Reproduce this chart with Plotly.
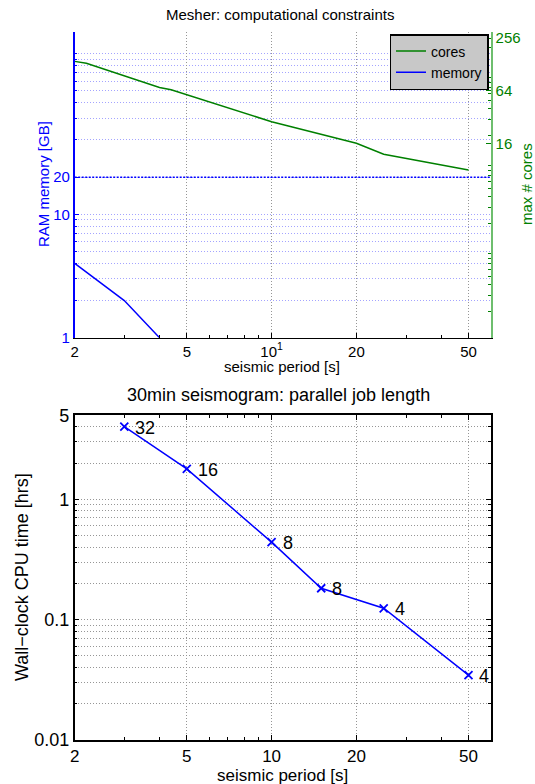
import math
import plotly.graph_objects as go

# ---------------- data ----------------
period_cores = [2, 2.2, 4, 4.4, 10, 20, 25, 50]
max_cores = [139, 132, 70, 66, 28.6, 16.3, 12.2, 8.1]

period_memory = [2, 2.2, 3, 4]
memory_gb = [4.0, 3.4, 2.0, 1.0]

memory_limit_gb = 20

period_run = [3, 5, 10, 15, 25, 50]
walltime_hrs = [4.02, 1.79, 0.44, 0.182, 0.124, 0.0345]
cores_used = [32, 16, 8, 8, 4, 4]

x_tickvals = [2, 5, 10, 20, 50]
x_ticktext_top = ["2", "5", "10<sup>1</sup>", "20", "50"]
x_ticktext_bottom = ["2", "5", "10", "20", "50"]
mem_tickvals = [1, 10, 20]
core_tickvals = [16, 64, 256]
time_tickvals = [0.01, 0.1, 1, 5]
time_ticktext = ["0.01", "0.1", "1", "5"]

# ---------------- layout helpers ----------------
W, H = 535, 784
FONT = "Liberation Sans, Arial, Helvetica, sans-serif"
BLUE = "rgb(0,0,255)"
GREEN = "rgb(0,128,0)"


def px(x):
    return x / W


def py(y):
    return 1 - y / H


XDOM = [px(74.7), px(490.8)]
TOP_DOM = [py(337.7), py(32)]
BOT_DOM = [py(739.7), py(415.3)]
DOT = "1px,2px"

x_minor = [3, 4, 6, 7, 8, 9, 30, 40]
mem_minor = [2, 3, 4, 5, 6, 7, 8, 9, 40, 60, 80, 100, 120, 140, 160, 180, 200]
core_minor = [k * 10 ** e for e in (-1, 0, 1, 2) for k in range(2, 10) if k * 10 ** e <= 300]
time_minor = [k * 10 ** e for e in (-2, -1, 0) for k in range(2, 10) if k * 10 ** e < 5]

fig = go.Figure()

fig.add_trace(go.Scatter(
    x=period_cores, y=max_cores, mode="lines", name="cores",
    line=dict(color=GREEN, width=1.5), xaxis="x", yaxis="y2"))
fig.add_trace(go.Scatter(
    x=period_memory, y=memory_gb, mode="lines", name="memory",
    line=dict(color=BLUE, width=1.5), xaxis="x", yaxis="y"))

fig.add_trace(go.Scatter(
    x=period_run, y=walltime_hrs, mode="lines+markers", showlegend=False,
    line=dict(color=BLUE, width=1.5),
    marker=dict(symbol="x-thin", size=8, line=dict(color=BLUE, width=1.8)),
    xaxis="x2", yaxis="y3"))

# memory limit line
fig.add_shape(type="line", xref="x domain", x0=0, x1=1, yref="y",
              y0=memory_limit_gb, y1=memory_limit_gb,
              line=dict(color=BLUE, width=1.5, dash="2px,1.5px"), layer="above")

# cores-used labels
for xv, yv, c in zip(period_run, walltime_hrs, cores_used):
    fig.add_annotation(x=math.log10(xv), y=math.log10(yv), xref="x2", yref="y3",
                       text=str(c), showarrow=False, xanchor="left", yanchor="middle",
                       xshift=9, yshift=-1, font=dict(size=18, color="black", family=FONT))

grid_gray = "rgb(150,150,150)"

fig.update_layout(
    width=W, height=H,
    margin=dict(l=0, r=0, t=0, b=0, pad=0, autoexpand=False),
    paper_bgcolor="white", plot_bgcolor="white",
    font=dict(family=FONT, color="black", size=15),
    legend=dict(x=px(488.5), xanchor="right", y=py(34), yanchor="top",
                bgcolor="rgb(200,200,200)", bordercolor="black", borderwidth=1.5,
                font=dict(size=14, color="black", family=FONT),
                tracegroupgap=0, itemwidth=30),
    xaxis=dict(type="log", domain=XDOM, anchor="y", automargin=False,
               range=[math.log10(2), math.log10(60)],
               tickmode="array", tickvals=x_tickvals, ticktext=x_ticktext_top,
               ticks="inside", ticklen=5, tickcolor="black",
               showline=True, linecolor="black", linewidth=1, mirror=False,
               showgrid=True, gridcolor=grid_gray, griddash=DOT, gridwidth=1,
               zeroline=False, tickfont=dict(size=15),
               minor=dict(tickmode="array", tickvals=x_minor, ticks="inside",
                          ticklen=3, tickcolor="black", showgrid=False)),
    yaxis=dict(type="log", domain=TOP_DOM, anchor="x", automargin=False,
               range=[0, math.log10(300)],
               tickmode="array", tickvals=mem_tickvals, ticktext=[str(v) for v in mem_tickvals],
               ticks="inside", ticklen=5, tickcolor=BLUE,
               tickfont=dict(size=15, color=BLUE),
               showline=True, linecolor=BLUE, linewidth=1.5,
               showgrid=True, gridcolor="rgba(90,90,255,0.55)", griddash=DOT,
               zeroline=False,
               minor=dict(tickmode="array", tickvals=mem_minor, ticks="inside",
                          ticklen=3, tickcolor=BLUE, showgrid=True,
                          gridcolor="rgba(90,90,255,0.55)", griddash=DOT)),
    yaxis2=dict(type="log", overlaying="y", side="right", anchor="x", automargin=False,
                range=[-1, math.log10(300)],
                tickmode="array", tickvals=core_tickvals, ticktext=[str(v) for v in core_tickvals],
                ticks="inside", ticklen=5, tickcolor=GREEN,
                tickfont=dict(size=15, color=GREEN),
                showline=True, linecolor="rgb(110,190,110)", linewidth=1.5,
                showgrid=False, zeroline=False,
                minor=dict(tickmode="array", tickvals=core_minor, ticks="inside",
                           ticklen=3, tickcolor=GREEN, showgrid=False)),
    xaxis2=dict(type="log", domain=XDOM, anchor="y3", automargin=False,
                range=[math.log10(2), math.log10(60)],
                tickmode="array", tickvals=x_tickvals, ticktext=x_ticktext_bottom,
                ticks="inside", ticklen=5, tickcolor="black",
                showline=True, linecolor="black", linewidth=1.5, mirror="all",
                showgrid=True, gridcolor=grid_gray, griddash=DOT,
                zeroline=False, tickfont=dict(size=17),
                minor=dict(tickmode="array", tickvals=x_minor, ticks="inside",
                           ticklen=3, tickcolor="black", showgrid=False)),
    yaxis3=dict(type="log", domain=BOT_DOM, anchor="x2", automargin=False,
                range=[-2, math.log10(5)],
                tickmode="array", tickvals=time_tickvals, ticktext=time_ticktext,
                ticks="inside", ticklen=5, tickcolor="black",
                showline=True, linecolor="black", linewidth=1.5, mirror="all",
                showgrid=True, gridcolor=grid_gray, griddash=DOT,
                zeroline=False, tickfont=dict(size=18),
                minor=dict(tickmode="array", tickvals=time_minor, ticks="inside",
                           ticklen=3, tickcolor="black", showgrid=True,
                           gridcolor=grid_gray, griddash=DOT)),
)

titles = [
    ("Mesher: computational constraints", 280, 14, 0, 15, "black"),
    ("seismic period [s]", 282, 366, 0, 15, "black"),
    ("RAM memory [GB]", 43, 184, -90, 15, BLUE),
    ("max # cores", 526, 184, -90, 15, GREEN),
    ("30min seismogram: parallel job length", 278, 395, 0, 18, "black"),
    ("seismic period [s]", 282, 775, 0, 17, "black"),
    ("Wall\u2212clock CPU time [hrs]", 22, 577, -90, 18, "black"),
]
for text, x, y, ang, size, col in titles:
    fig.add_annotation(x=px(x), y=py(y), xref="paper", yref="paper", text=text,
                       showarrow=False, xanchor="center", yanchor="middle",
                       textangle=ang, font=dict(size=size, color=col, family=FONT))

fig.write_html(
    "out.html",
    config={"displayModeBar": False},
    post_script="document.body.style.margin='0px';document.body.style.padding='0px';"
                "document.documentElement.style.overflow='hidden';",
)
